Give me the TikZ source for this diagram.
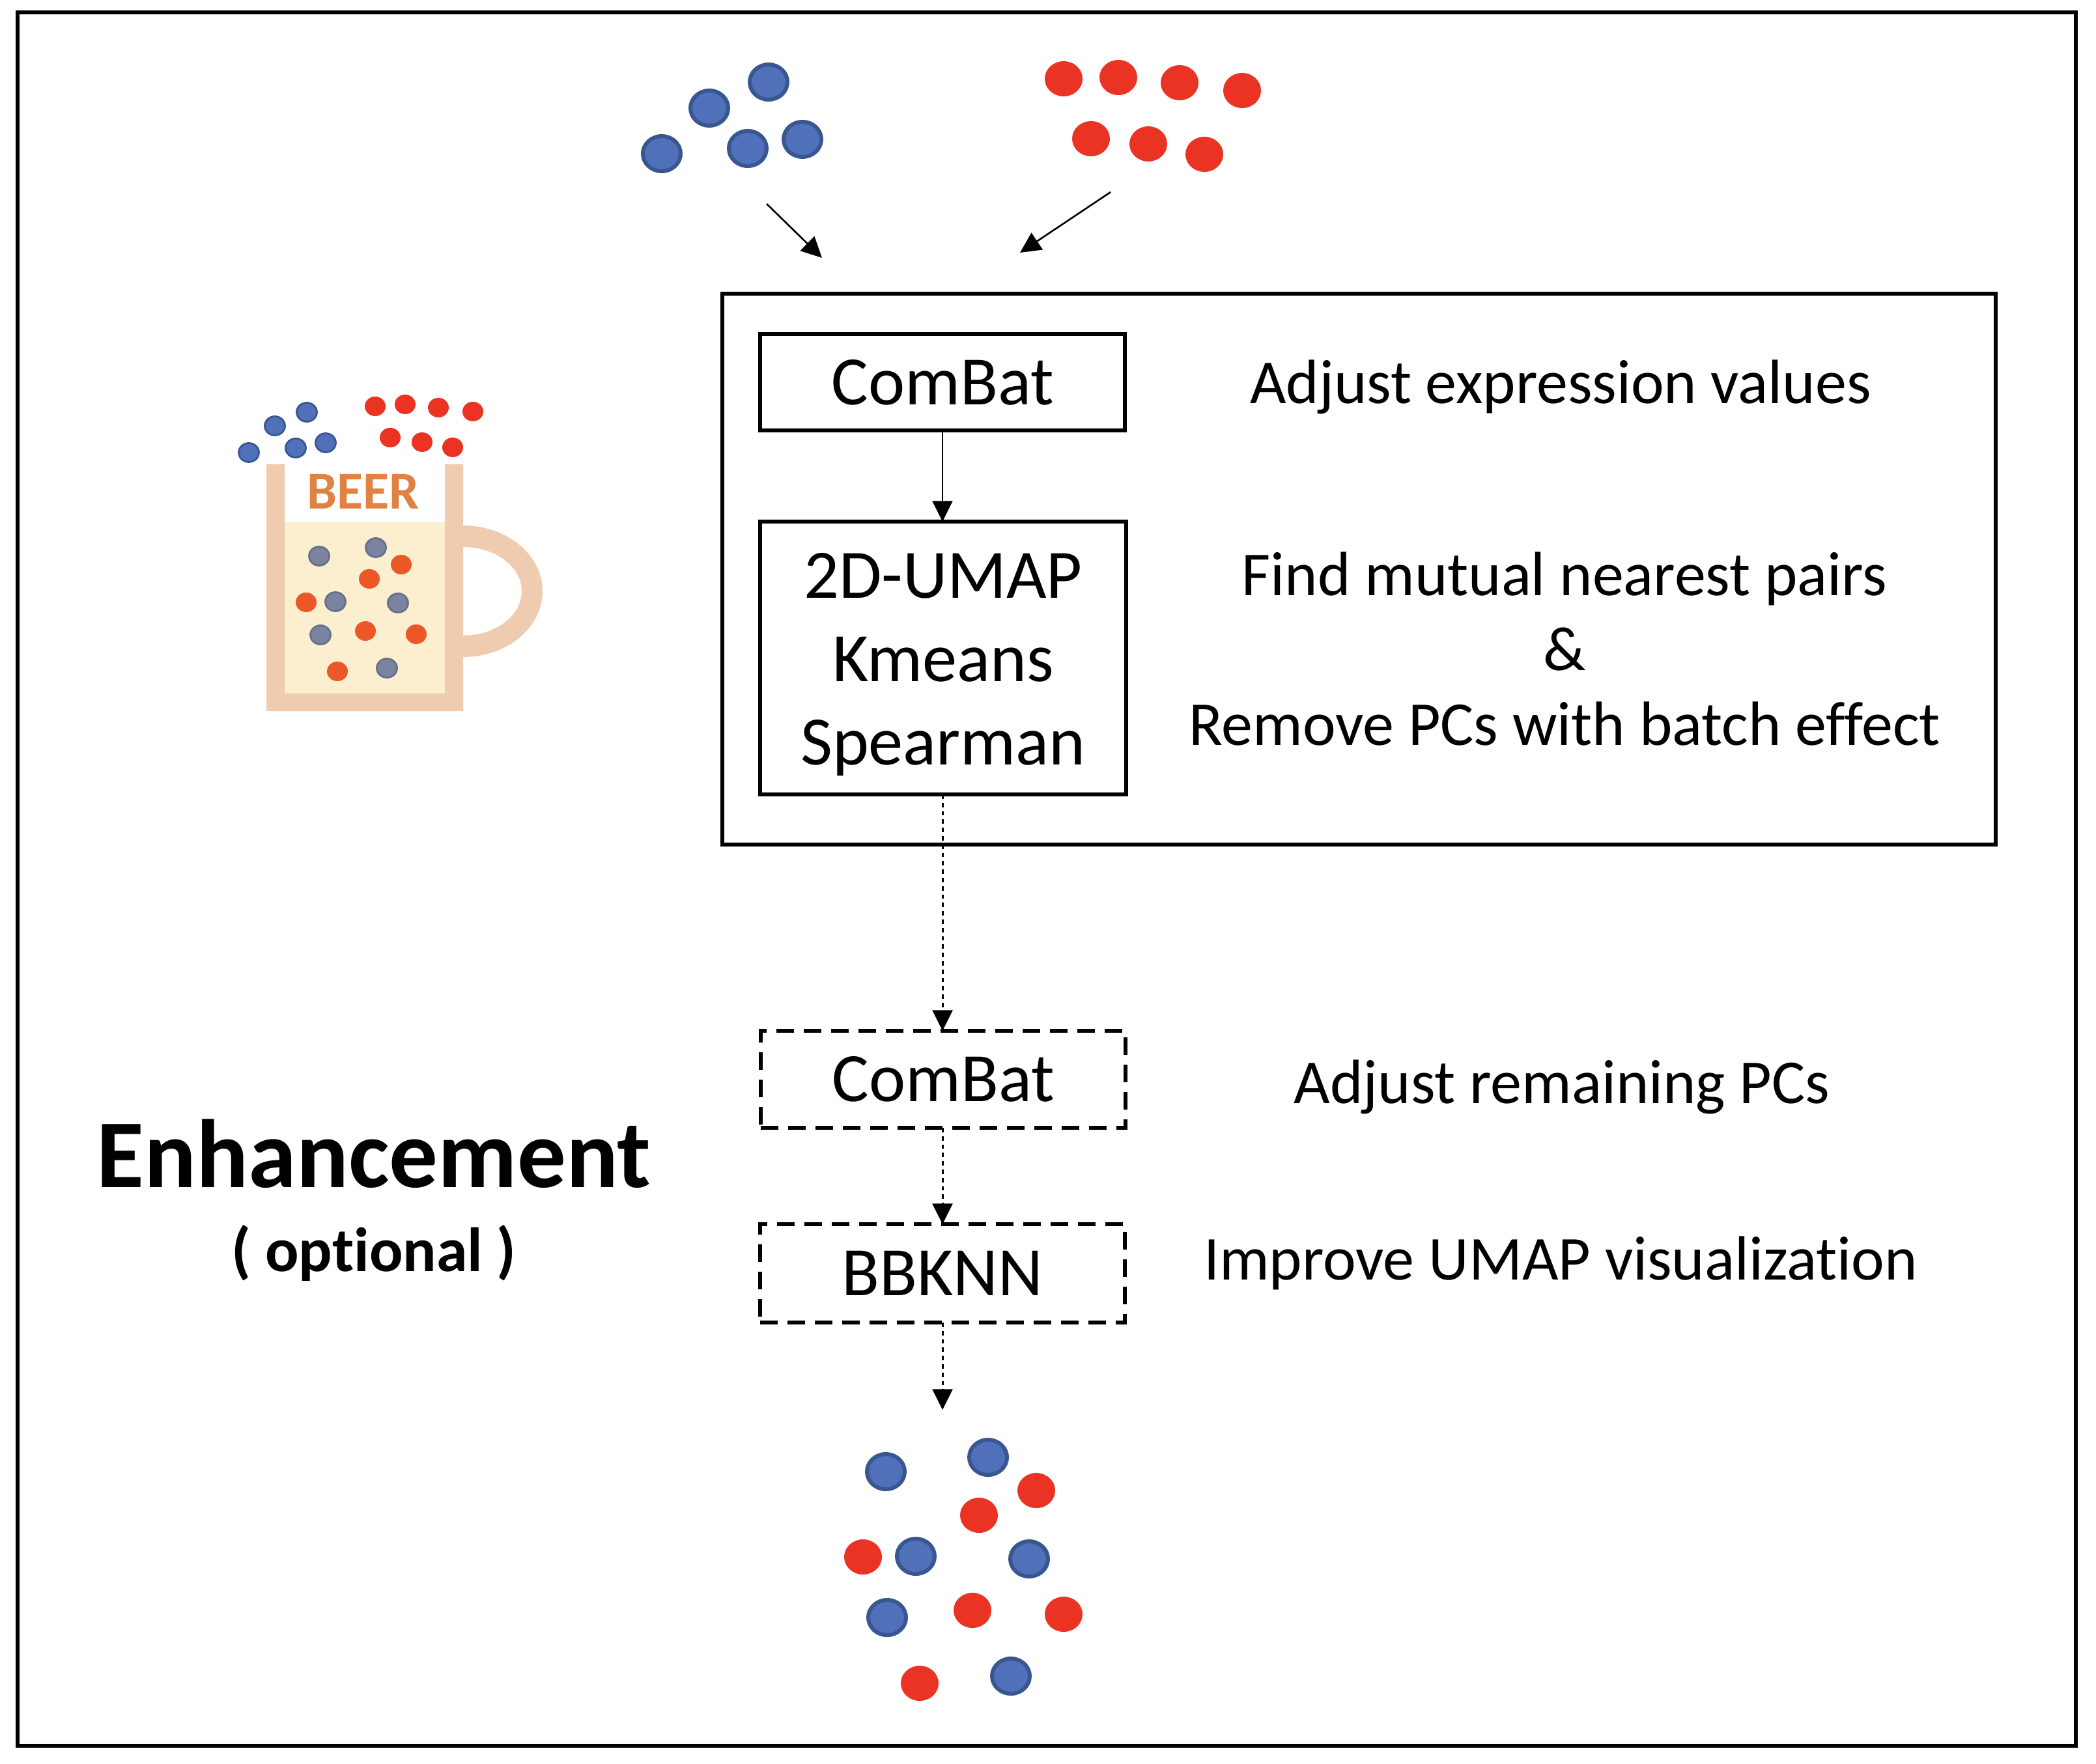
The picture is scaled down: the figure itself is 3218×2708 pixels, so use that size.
\documentclass[tikz,border=0pt]{standalone}
\usepackage{fontspec}
\usepackage{tikz}
\setmainfont[Ligatures=NoCommon]{Carlito}
\usetikzlibrary{positioning, arrows.meta}
\definecolor{dotblue}{HTML}{5071BA}
\definecolor{dotblueline}{HTML}{38568F}
\definecolor{dotred}{HTML}{EA3323}
\definecolor{dotgray}{HTML}{7A84A0}
\definecolor{dotgrayline}{HTML}{667088}
\definecolor{dotorange}{HTML}{EC5728}
\definecolor{mugwall}{HTML}{EFCBB0}
\definecolor{mugbeer}{HTML}{FCEFD0}
\definecolor{beertext}{HTML}{DF8244}

\begin{document}
\begin{tikzpicture}[x=0.25pt, y=-0.25pt, >={Triangle[length=7.9pt,width=7.7pt]},
    stepbox/.style={draw, line width=1.5pt, inner sep=0pt, outer sep=0pt, minimum width=140pt, align=center,
        font=\fontsize{26.6}{32}\selectfont},
    optbox/.style={stepbox, dash pattern=on 6.7pt off 3.8pt},
    note/.style={align=center, inner sep=0pt, font=\fontsize{24}{28.75}\selectfont},
    flow/.style={->, line width=0.65pt},
    optflow/.style={flow, line width=0.75pt, dash pattern=on 1.7pt off 1.5pt},
    bigblue/.style={fill=dotblue, draw=dotblueline, line width=1.5pt},
    bigred/.style={fill=dotred},
    smallblue/.style={fill=dotblue, draw=dotblueline, line width=0.7pt},
    smallgray/.style={fill=dotgray, draw=dotgrayline, line width=0.7pt},
    smallorange/.style={fill=dotorange}]
    \useasboundingbox (0,0) rectangle (3218,2708);
    % frames
    \draw[line width=1.5pt] (27,19) rectangle (3187,2681);
    \draw[line width=1.5pt] (1109,451) rectangle (3064,1297);

    % top groups
    \foreach \px/\py in {1180/126, 1089/166, 1232/214, 1148/228, 1016/236}
        \draw[bigblue] (\px,\py) ellipse [x radius=29, y radius=27];
    \foreach \px/\py in {1633/121, 1717/119, 1811/127, 1907/139, 1675/213, 1763/221, 1849/237}
        \fill[bigred] (\px,\py) ellipse [x radius=29, y radius=27];
    \coordinate (bluefrom) at (1177,313);
    \coordinate (blueto) at (1262,396);
    \coordinate (redfrom) at (1705,295);
    \coordinate (redto) at (1566,388);
    \draw[flow] (bluefrom) -- (blueto);
    \draw[flow] (redfrom) -- (redto);

    % steps
    \node[stepbox, minimum height=37pt] (combatA) at (1447,587) {ComBat};
    \node[stepbox, minimum height=104.75pt, minimum width=140.5pt, below=35pt of combatA, xshift=0.25pt] (umap) {\rule{0pt}{22.5pt}2D-UMAP\\Kmeans\\Spearman};
    \node[optbox, minimum height=37.25pt, below=90.75pt of umap] (combatB) {ComBat};
    \node[optbox, minimum height=37.75pt, below=37pt of combatB, xshift=-0.25pt] (bbknn) {BBKNN};
    \coordinate (mixed) at (1447,2165);
    \draw[flow] (combatA) -- (combatA |- umap.north);
    \draw[optflow] (combatA |- umap.south) -- (combatA |- combatB.north);
    \draw[optflow] (combatA |- combatB.south) -- (combatA |- bbknn.north);
    \draw[optflow] (combatA |- bbknn.south) -- (mixed);

    % notes
    \node[note] (adjust) at (2396,594) {Adjust expression values};
    \node[note] (pairs) at (2402,997) {Find mutual nearest pairs\\\&\\Remove PCs with batch effect};
    \node[note] (remain) at (2398,1669) {Adjust remaining PCs};
    \node[note] (improve) at (2396,1940) {Improve UMAP visualization};
    \node[inner sep=0pt, font=\fontsize{37.3}{37}\selectfont\bfseries] (enhance) at (574,1772) {Enhancement};
    \node[inner sep=0pt, font=\fontsize{24}{23}\selectfont\bfseries] (optional) at (574,1924) {( optional )};

    % mixed cells
    \foreach \px/\py in {1360/2260, 1517/2238, 1406/2390, 1580/2394, 1362/2484, 1552/2574}
        \draw[bigblue] (\px,\py) ellipse [x radius=29, y radius=27];
    \foreach \px/\py in {1591/2289, 1503/2327, 1325/2391, 1493/2473, 1633/2479, 1412/2585}
        \fill[bigred] (\px,\py) ellipse [x radius=29, y radius=27];

    % mug
    \fill[mugbeer] (437,802) rectangle (683,1065);
    \fill[mugwall] (409,713) -- (437,713) -- (437,1065) -- (683,1065) -- (683,713) -- (711,713) -- (711,1092) -- (409,1092) -- cycle;
    \fill[mugwall] (711,807) arc [start angle=-90, end angle=90, x radius=122, y radius=101]
        -- (711,976) arc [start angle=90, end angle=-90, x radius=90, y radius=68] -- cycle;
    \node[inner sep=0pt, text=beertext, font=\fontsize{20.5}{20}\selectfont\bfseries] (beer) at (558,755) {BEER};
    \foreach \px/\py in {471/633, 422/654, 500/680, 454/688, 382/695}
        \draw[smallblue] (\px,\py) ellipse [x radius=15.5, y radius=14.5];
    \foreach \px/\py in {576/624, 622/621, 673/626, 726/632, 599/672, 648/679, 695/687}
        \fill[bigred] (\px,\py) ellipse [x radius=16, y radius=15];
    \foreach \px/\py in {490/854, 577/841, 515/924, 611/926, 492/975, 594/1026}
        \draw[smallgray] (\px,\py) ellipse [x radius=15.5, y radius=14.5];
    \foreach \px/\py in {616/867, 567/889, 470/925, 561/969, 639/974, 518/1031}
        \fill[smallorange] (\px,\py) ellipse [x radius=16, y radius=15];
\end{tikzpicture}
\end{document}
